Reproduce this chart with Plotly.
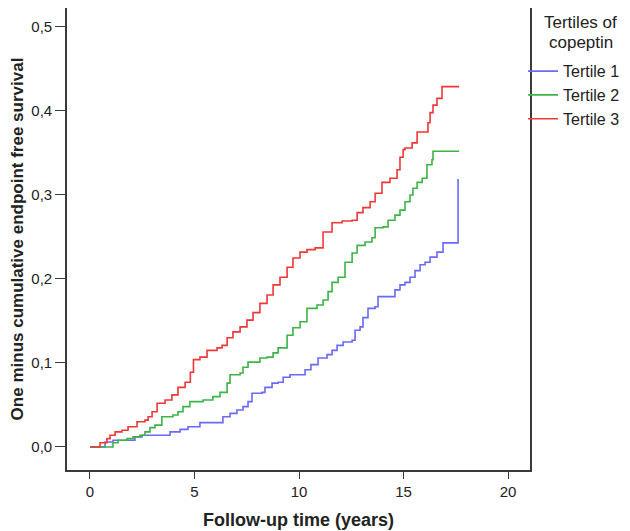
import plotly.graph_objects as go

# Tertile 1 (blue)
t1_time = [0, 0.72, 1.10, 2.15, 2.49, 3.83, 4.31, 4.69, 5.26, 6.36, 6.70, 7.03, 7.32, 7.56, 7.75,
           8.23, 8.37, 8.71, 9.00, 9.24, 9.57, 10.29, 10.57, 10.91, 11.34, 11.58, 11.82, 12.11,
           12.54, 12.68, 12.92, 13.06, 13.30, 13.64, 13.78, 14.59, 14.83, 15.07, 15.31, 15.55,
           15.79, 16.03, 16.27, 16.60, 16.89, 17.61]
t1_val = [0, 0.006, 0.008, 0.012, 0.014, 0.018, 0.021, 0.024, 0.029, 0.036, 0.040, 0.044, 0.048,
          0.054, 0.064, 0.065, 0.071, 0.076, 0.077, 0.083, 0.086, 0.092, 0.098, 0.106, 0.110,
          0.115, 0.121, 0.125, 0.127, 0.139, 0.143, 0.154, 0.165, 0.167, 0.179, 0.187, 0.193,
          0.196, 0.202, 0.210, 0.217, 0.220, 0.226, 0.232, 0.243, 0.319]

# Tertile 2 (green)
t2_time = [0, 1.10, 1.34, 1.77, 2.06, 2.39, 2.63, 2.87, 3.11, 3.44, 3.97, 4.21, 4.45, 4.78, 5.41,
           5.88, 6.22, 6.56, 6.70, 7.18, 7.32, 7.56, 8.13, 8.47, 8.76, 9.00, 9.43, 9.71, 10.05,
           10.38, 10.86, 11.15, 11.39, 11.58, 11.87, 12.20, 12.54, 12.78, 13.16, 13.49, 13.64,
           14.02, 14.26, 14.59, 14.83, 15.07, 15.31, 15.45, 15.65, 15.89, 16.12, 16.36, 16.41, 17.66]
t2_val = [0, 0.005, 0.008, 0.010, 0.012, 0.014, 0.018, 0.023, 0.026, 0.036, 0.038, 0.042, 0.048,
          0.054, 0.056, 0.060, 0.065, 0.076, 0.086, 0.088, 0.095, 0.101, 0.106, 0.107, 0.112,
          0.118, 0.133, 0.142, 0.149, 0.165, 0.169, 0.175, 0.185, 0.196, 0.202, 0.220, 0.231,
          0.240, 0.244, 0.249, 0.261, 0.262, 0.270, 0.276, 0.282, 0.292, 0.300, 0.308, 0.315,
          0.320, 0.336, 0.342, 0.352, 0.352]

# Tertile 3 (red)
t3_time = [0, 0.48, 0.81, 0.96, 1.20, 1.53, 1.82, 2.25, 2.63, 2.78, 2.97, 3.21, 3.59, 3.92, 4.21,
           4.55, 4.80, 4.95, 5.26, 5.60, 6.08, 6.32, 6.56, 6.84, 7.18, 7.51, 7.80, 8.13, 8.47,
           8.76, 9.09, 9.43, 9.71, 10.05, 10.38, 10.77, 11.15, 11.58, 12.06, 12.54, 12.78, 13.06,
           13.40, 13.64, 13.97, 14.35, 14.69, 14.83, 14.98, 15.07, 15.41, 15.65, 16.17, 16.27,
           16.41, 16.60, 16.84, 17.66]
t3_val = [0, 0.005, 0.010, 0.014, 0.018, 0.020, 0.024, 0.030, 0.032, 0.036, 0.042, 0.052, 0.056,
          0.062, 0.071, 0.077, 0.089, 0.104, 0.107, 0.115, 0.118, 0.121, 0.130, 0.137, 0.143,
          0.151, 0.160, 0.171, 0.181, 0.193, 0.202, 0.214, 0.225, 0.232, 0.235, 0.237, 0.256,
          0.267, 0.269, 0.270, 0.279, 0.285, 0.292, 0.302, 0.315, 0.320, 0.330, 0.345, 0.354,
          0.356, 0.362, 0.375, 0.386, 0.398, 0.407, 0.415, 0.429, 0.429]

series = [
    ("Tertile 1", t1_time, t1_val, "rgb(105,105,252)"),
    ("Tertile 2", t2_time, t2_val, "rgb(60,180,70)"),
    ("Tertile 3", t3_time, t3_val, "rgb(238,55,55)"),
]

x_ticks = [0, 5, 10, 15, 20]
y_ticks = [0.0, 0.1, 0.2, 0.3, 0.4, 0.5]
legend_title_lines = ["Tertiles of", "copeptin"]

fig = go.Figure()
for name, t, v, c in series:
    fig.add_trace(go.Scatter(x=t, y=v, mode="lines", name=name, legendgroup=name,
                             line=dict(color=c, width=1.6, shape="hv")))

font_family = "Liberation Sans, Arial, sans-serif"
frame_col = "#3a3a3a"

# the page body adds an 8px offset; the figure is sized to fit the window
fig.update_layout(
    width=622, height=523,
    margin=dict(l=59, r=100, t=0, b=61, autoexpand=False),
    paper_bgcolor="white", plot_bgcolor="white",
    separators=", ",
    font=dict(family=font_family, size=15, color="#222"),
    showlegend=True,
    legend=dict(x=0.985, xanchor="left", y=0.90, yanchor="top",
                font=dict(size=16, color="#222"), bgcolor="rgba(0,0,0,0)",
                itemwidth=30, tracegroupgap=0, traceorder="grouped"),
    xaxis=dict(range=[-1.1, 21.05], tickvals=x_ticks, ticks="outside", ticklen=7,
               tickcolor=frame_col, tickwidth=1.3, showgrid=False, zeroline=False,
               showline=True, linecolor=frame_col, linewidth=1.6, mirror=True,
               title=dict(text="<b>Follow-up time (years)</b>", font=dict(size=18), standoff=15),
               tickfont=dict(size=15)),
    yaxis=dict(range=[-0.0274, 0.5226], tickvals=y_ticks, tickformat=".1f", ticks="outside",
               ticklen=10, tickcolor=frame_col, tickwidth=1.3, showgrid=False, zeroline=False,
               showline=True, linecolor=frame_col, linewidth=1.6, mirror=True,
               title=dict(text="<b>One minus cumulative endpoint free survival</b>",
                          font=dict(size=17), standoff=8),
               tickfont=dict(size=15)),
)

for i, line in enumerate(legend_title_lines):
    fig.add_annotation(text=line, xref="paper", yref="paper",
                       x=1.11, y=0.969 - i * 0.043, xanchor="center", yanchor="middle",
                       showarrow=False,
                       font=dict(size=17, color="#222", family=font_family))

fig.write_html("out.html")
